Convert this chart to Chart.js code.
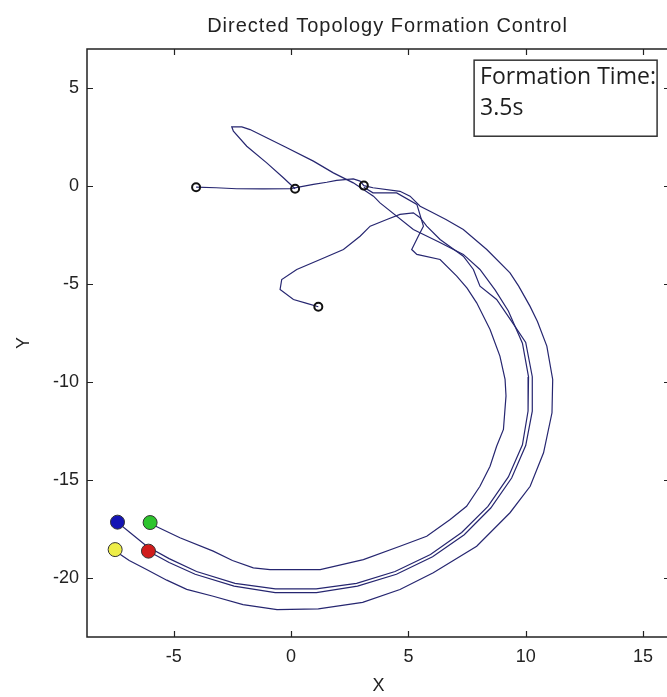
<!DOCTYPE html>
<html>
<head>
<meta charset="utf-8">
<script src="https://cdn.jsdelivr.net/npm/chart.js@4/dist/chart.umd.min.js"></script>
<style>
  html, body { margin: 0; padding: 0; overflow: hidden; background: #fff; }
</style>
</head>
<body>
<canvas id="formation" width="671" height="697"></canvas>
<script>
/* --------------- Titles --------------------- */
const chartTitle = "Directed Topology Formation Control";
const xTitle = "X";
const yTitle = "Y";
const noteLines = ["Formation Time:", "3.5s"];

/* --------------- Axis ranges and ticks --------------------- */
const xRange = [-8.7, 16.15];
const yRange = [-23, 7];
const xTickVals = [-5, 0, 5, 10, 15];
const yTickVals = [-20, -15, -10, -5, 0, 5];

/* --------------- Agent paths (x, y) --------------------------------------- */
const agentPath1 = [
  [-4.05,-0.05],[-3.2,-0.08],[-2.32,-0.13],[-1.2,-0.14],[-0.04,-0.13],[0.38,-0.03],[0.95,0.09],
  [1.52,0.2],[1.94,0.3],[2.65,0.37],[2.94,0.26],[3.1,0.03],[3.49,-0.08],[4.64,-0.26],[5.07,-0.51],
  [5.5,-1.02],[5.92,-1.28],[6.6,-1.7],[7.34,-2.21],[8.34,-3.23],[9.33,-4.42],[9.7,-5.1],[10.18,-6.12],
  [10.5,-6.9],[10.9,-8.16],[11.15,-9.86],[11.12,-11.56],[10.76,-13.6],[10.19,-15.31],[9.33,-16.66],
  [7.91,-18.37],[6.06,-19.72],[4.64,-20.58],[3.05,-21.23],[1.16,-21.56],[-0.6,-21.6],[-2.05,-21.35],
  [-3.32,-20.92],[-4.45,-20.57],[-5.3,-20.1],[-6.16,-19.56],[-6.9,-19.1],[-7.45,-18.65]
];
const agentPath2 = [
  [3.1,-0.05],[3.49,-0.34],[4.5,-0.34],[5.36,-0.93],[5.64,-2.04],[5.42,-2.55],[5.14,-3.23],[5.36,-3.48],
  [6.35,-3.74],[7.06,-4.59],[7.5,-5.2],[7.91,-5.95],[8.48,-7.31],[8.9,-8.67],[9.12,-9.86],[9.16,-10.7],
  [9.05,-12.41],[8.76,-13.27],[8.48,-14.29],[8.05,-15.31],[7.48,-16.33],[6.78,-17.0],[5.78,-17.86],
  [4.64,-18.37],[3.08,-19.05],[1.24,-19.56],[-0.9,-19.56],[-1.61,-19.47],[-2.5,-19.1],[-3.32,-18.62],
  [-4.74,-17.94],[-5.79,-17.34],[-6.0,-17.2]
];
const agentPath3 = [
  [0.17,-0.13],[-0.33,0.43],[-1.04,1.19],[-1.89,2.04],[-2.46,2.81],[-2.53,3.03],[-2.1,3.03],[-1.75,2.89],
  [-1.04,2.47],[-0.18,1.96],[0.95,1.28],[1.8,0.68],[2.65,0.17],[3.51,-0.51],[3.79,-0.85],[5.21,-2.21],
  [6.3,-2.85],[7.34,-3.48],[8.05,-4.25],[8.7,-5.3],[9.26,-6.37],[9.86,-8.01],[10.12,-9.73],[10.1,-11.47],
  [9.86,-13.19],[9.26,-14.83],[8.39,-16.34],[7.27,-17.67],[5.94,-18.79],[4.43,-19.66],[2.79,-20.26],
  [1.07,-20.54],[-0.67,-20.54],[-2.39,-20.26],[-4.03,-19.66],[-5.2,-19.0],[-6.15,-18.37],[-6.87,-17.67],
  [-7.4,-17.15]
];
const agentPath4 = [
  [1.16,-6.15],[0.67,-5.98],[0.1,-5.78],[-0.47,-5.27],[-0.4,-4.76],[0.24,-4.25],[1.24,-3.74],[2.23,-3.23],
  [2.94,-2.55],[3.37,-2.04],[4.08,-1.7],[4.64,-1.44],[5.21,-1.36],[5.5,-1.61],[5.78,-2.04],[6.35,-2.72],
  [7.34,-3.57],[7.77,-4.25],[8.05,-5.1],[8.76,-5.78],[9.4,-6.9],[10.0,-7.97],[10.28,-9.72],[10.28,-11.48],
  [10.0,-13.23],[9.4,-14.89],[8.51,-16.42],[7.38,-17.78],[6.03,-18.91],[4.49,-19.8],[2.83,-20.4],
  [1.08,-20.74],[-0.68,-20.74],[-2.43,-20.4],[-4.09,-19.8],[-5.2,-19.2],[-6.08,-18.62]
];

/* --------------- Start and end positions --------------------- */
const startX = [-4.05, 0.17, 3.1, 1.16];
const startY = [-0.05, -0.13, 0.03, -6.15];
const endX = [-7.4, -6.01, -7.5, -6.08];
const endY = [-17.14, -17.16, -18.54, -18.62];
const endColors = ["#1414b4", "#2ec42e", "#eeee48", "#d01c1c"];

const lineColor = "#262670";
const inkColor = "#222222";

const toPoints = (path) => path.map(p => ({ x: p[0], y: p[1] }));
const pathDataset = (path) => ({
  data: toPoints(path),
  showLine: true,
  borderColor: lineColor,
  borderWidth: 1.2,
  pointRadius: 0,
  tension: 0,
  order: 2,
});

/* --------------- Frame, inward ticks, title and note box --------------------- */
const framePlugin = {
  id: "frame",
  afterDraw(chart) {
    const { ctx, chartArea: a, scales: { x, y } } = chart;
    ctx.save();
    ctx.strokeStyle = inkColor;
    ctx.lineWidth = 1.5;
    ctx.strokeRect(a.left, a.top, a.right - a.left, a.bottom - a.top);
    ctx.beginPath();
    x.ticks.forEach(t => {
      const px = Math.round(x.getPixelForValue(t.value)) + 0.5;
      ctx.moveTo(px, a.bottom); ctx.lineTo(px, a.bottom - 6);
      ctx.moveTo(px, a.top); ctx.lineTo(px, a.top + 6);
    });
    y.ticks.forEach(t => {
      const py = Math.round(y.getPixelForValue(t.value)) + 0.5;
      ctx.moveTo(a.left, py); ctx.lineTo(a.left + 6, py);
      ctx.moveTo(a.right, py); ctx.lineTo(a.right - 6, py);
    });
    ctx.lineWidth = 1.2;
    ctx.stroke();

    // title
    ctx.fillStyle = inkColor;
    ctx.font = '20px "Liberation Sans", Arial, sans-serif';
    ctx.textAlign = "center";
    ctx.textBaseline = "alphabetic";
    ctx.letterSpacing = "1px";
    ctx.fillText(chartTitle, (a.left + a.right) / 2 + 9, 32);
    ctx.letterSpacing = "0px";

    // note box in data space
    const bx0 = x.getPixelForValue(7.8), bx1 = x.getPixelForValue(15.6);
    const by0 = y.getPixelForValue(6.43), by1 = y.getPixelForValue(2.55);
    ctx.fillStyle = "#ffffff";
    ctx.fillRect(bx0, by0, bx1 - bx0, by1 - by0);
    ctx.strokeStyle = "#333333";
    ctx.lineWidth = 1.5;
    ctx.strokeRect(bx0, by0, bx1 - bx0, by1 - by0);
    ctx.fillStyle = "#1e1e1e";
    ctx.font = '23px "Open Sans", sans-serif';
    ctx.textAlign = "left";
    noteLines.forEach((line, i) => ctx.fillText(line, bx0 + 6, by0 + 24 + i * 31));
    ctx.restore();
  },
};

/* --------------- Chart --------------------- */
new Chart(document.getElementById("formation"), {
  type: "scatter",
  plugins: [framePlugin],
  data: {
    datasets: [
      pathDataset(agentPath1),
      pathDataset(agentPath2),
      pathDataset(agentPath3),
      pathDataset(agentPath4),
      {
        data: startX.map((v, i) => ({ x: v, y: startY[i] })),
        pointRadius: 4,
        pointBorderWidth: 2,
        pointBorderColor: "#111111",
        pointBackgroundColor: "rgba(255,255,255,0)",
        order: 1,
      },
      {
        data: endX.map((v, i) => ({ x: v, y: endY[i] })),
        pointRadius: 7,
        pointBorderWidth: 1,
        pointBorderColor: "#333333",
        pointBackgroundColor: endColors,
        order: 0,
      },
    ],
  },
  options: {
    responsive: false,
    animation: false,
    layout: { autoPadding: false, padding: { top: 49, left: 0, right: 1, bottom: 0 } },
    plugins: {
      legend: { display: false },
      tooltip: { enabled: false },
      title: { display: false },
    },
    scales: {
      x: {
        type: "linear",
        min: xRange[0],
        max: xRange[1],
        afterBuildTicks: (s) => { s.ticks = xTickVals.map(v => ({ value: v })); },
        afterFit: (s) => { s.height = 60; s.paddingLeft = 0; s.paddingRight = 0; },
        grid: { display: false, drawTicks: false },
        border: { display: false },
        ticks: {
          padding: 9,
          color: inkColor,
          font: { family: '"Liberation Sans", Arial, sans-serif', size: 18 },
        },
        title: {
          display: true,
          text: xTitle,
          color: inkColor,
          padding: { top: 0, bottom: 0 },
          font: { family: '"Liberation Sans", Arial, sans-serif', size: 18 },
        },
      },
      y: {
        type: "linear",
        min: yRange[0],
        max: yRange[1],
        afterBuildTicks: (s) => { s.ticks = yTickVals.map(v => ({ value: v })); },
        afterFit: (s) => { s.width = 87; s.paddingTop = 0; s.paddingBottom = 0; },
        grid: { display: false, drawTicks: false },
        border: { display: false },
        ticks: {
          padding: 8,
          color: inkColor,
          font: { family: '"Liberation Sans", Arial, sans-serif', size: 18 },
        },
        title: {
          display: true,
          text: yTitle,
          color: inkColor,
          padding: { top: 13, bottom: 0 },
          font: { family: '"Liberation Sans", Arial, sans-serif', size: 18 },
        },
      },
    },
  },
});
</script>
</body>
</html>
